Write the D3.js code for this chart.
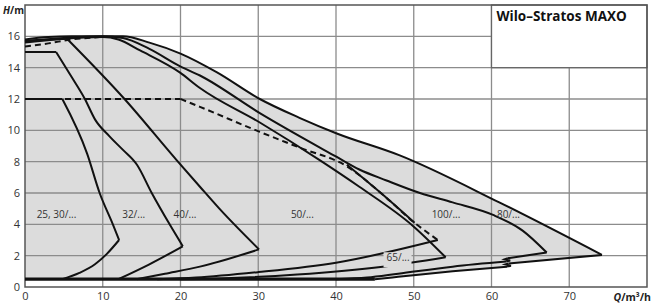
<!DOCTYPE html>
<html>
<head>
<meta charset="utf-8">
<script src="https://cdn.jsdelivr.net/npm/d3@7"></script>
<style>
  body { margin: 0; background: #fff; }
  svg { display: block; font-family: "Open Sans", sans-serif; }
</style>
</head>
<body>
<svg width="655" height="306"></svg>
<script>
// pump curves, [Q m3/h, H m], every array sorted by Q
const xTicks = [0, 10, 20, 30, 40, 50, 60, 70];
const yTicks = [0, 2, 4, 6, 8, 10, 12, 14, 16];

const baseline = [[0, 0.5], [45, 0.5]];

// flat starts (drawn straight, corner stays sharp)
const flat25 = [[0, 12], [4.8, 12]];
const flat32 = [[0, 15], [4, 15]];
const flat40 = [[0, 15.7], [5.4, 15.85]];

// max curves (upper) and min curves (lower), they meet at the tip
const up25 = [[4.8, 12], [8, 8.5], [9.6, 6], [11.3, 4], [12.1, 3.0]];
const low25 = [[4.8, 0.5], [7, 0.9], [9, 1.45], [10.5, 2.1], [12.1, 3.0]];

const up32 = [[4, 15], [6, 13.4], [7.7, 12], [9, 10.7], [10.9, 9.6], [12.6, 8.75],
  [14.4, 7.8], [16.3, 6], [18.6, 4], [20.3, 2.6]];
const low32 = [[12, 0.5], [16, 1.45], [20.3, 2.6]];

const up40 = [[5.4, 15.85], [12.8, 12], [19.5, 8.1], [22.5, 6.4], [25, 5], [30.1, 2.4]];
const low40 = [[14.4, 0.5], [18, 0.85], [22.5, 1.3], [30.1, 2.4]];

const up50 = [[0, 15.6], [5, 15.85], [10, 15.95], [12, 15.8], [14.8, 15.1], [19.9, 13.7],
  [22.5, 12.7], [30.2, 10.5], [37.9, 8.1], [43, 6.4], [49.9, 3.9], [54.1, 1.9]];
const low50 = [[20, 0.5], [25, 0.55], [35, 0.8], [46, 1.3], [54.1, 1.9]];
const branch50 = [[41.4, 7.8], [46, 5.9], [50.1, 4.1]];

const up100 = [[0, 15.7], [5, 15.9], [10, 16], [12.6, 15.9], [16, 15.2], [19.9, 14.1],
  [22.5, 13.5], [30.2, 11.1], [40.1, 8.3], [43, 7.5], [46.5, 6.8], [50.8, 6.0], [55, 5.4],
  [60.2, 4.6], [64, 3.6], [67.1, 2.2]];
const low100a = [[40, 0.5], [44, 0.6], [48, 0.85], [55, 1.3], [61.9, 1.62]];
const zig100 = [[61.9, 1.62], [62.4, 1.69], [61.7, 1.77], [62.1, 1.84]];
const low100b = [[62.1, 1.84], [67.1, 2.2]];

const up80 = [[0, 15.8], [3, 15.95], [6, 16], [12.6, 16], [16, 15.6], [20, 14.9], [24.7, 13.7],
  [30.2, 12], [35.3, 10.8], [40.1, 9.8], [48.2, 8.4], [61, 5.4], [74.2, 2.05]];
const low80a = [[45, 0.5], [48, 0.65], [55, 1.0], [62, 1.3]];
const zig80 = [[62, 1.3], [62.5, 1.36], [61.8, 1.44], [62.2, 1.5]];
const low80b = [[62.2, 1.5], [74.2, 2.05]];

const dashTop = [[0, 15.35], [3, 15.55], [6, 15.8], [9.6, 15.95]];
const dashFlat = [[0, 12], [20, 12]];
const dash12 = [[20, 12], [22.5, 11.5], [30.2, 9.9], [35.3, 8.9], [41.4, 7.7],
  [46, 5.9], [50.1, 4.1], [53.1, 3.0]];
const low12 = [[17, 0.5], [22, 0.6], [30, 0.95], [40, 1.55], [53.1, 3.0]];

const labels = ["25, 30/...", "32/...", "40/...", "50/...", "65/...", "100/...", "80/..."];
const labelQ = [1.5, 12.5, 19.1, 34.2, 46.5, 52.3, 60.7];
const labelH = [4.65, 4.65, 4.65, 4.65, 1.9, 4.65, 4.65];

const svg = d3.select('svg');

const x = d3.scaleLinear().domain([0, 80]).range([25, 647]);
const y = d3.scaleLinear().domain([0, 18]).range([287, 5]);

const smooth = d3.line().x(d => x(d[0])).y(d => y(d[1])).curve(d3.curveMonotoneX);
const straight = d3.line().x(d => x(d[0])).y(d => y(d[1]));

// grey envelope: outer max curve, back along its min curve, then the baseline
const envPath = smooth(up80)
  + smooth(low80b.slice().reverse()).replace('M', 'L')
  + straight(zig80.slice().reverse()).replace('M', 'L')
  + smooth(low80a.slice().reverse()).replace('M', 'L')
  + straight(baseline.slice().reverse()).replace('M', 'L') + 'Z';
svg.append('path')
  .attr('d', envPath)
  .attr('fill', '#dcdcdc');

// grid
svg.append('g').selectAll('line').data(xTicks.slice(1)).enter()
  .append('line')
  .attr('x1', d => x(d)).attr('x2', d => x(d))
  .attr('y1', y(0)).attr('y2', y(18))
  .attr('stroke', '#8c8c8c').attr('stroke-width', 1.3);
svg.append('g').selectAll('line').data(yTicks.slice(1)).enter()
  .append('line')
  .attr('x1', x(0)).attr('x2', x(80))
  .attr('y1', d => y(d)).attr('y2', d => y(d))
  .attr('stroke', '#8c8c8c').attr('stroke-width', 1.3);

// title box
svg.append('rect')
  .attr('x', x(60)).attr('y', y(18))
  .attr('width', x(80) - x(60)).attr('height', y(14) - y(18))
  .attr('fill', '#fff').attr('stroke', '#666').attr('stroke-width', 1.3);
svg.append('text')
  .attr('x', x(60) + 5).attr('y', 21)
  .attr('font-size', 13.5).attr('font-weight', 'bold').attr('fill', '#111')
  .text('Wilo–Stratos MAXO');

// frame
svg.append('rect')
  .attr('x', x(0)).attr('y', y(18))
  .attr('width', x(80) - x(0)).attr('height', y(0) - y(18))
  .attr('fill', 'none').attr('stroke', '#555').attr('stroke-width', 1.5);

// dashed curves
svg.append('g').selectAll('path').data([dashTop, dash12]).enter()
  .append('path')
  .attr('d', smooth)
  .attr('fill', 'none').attr('stroke', '#111').attr('stroke-width', 2)
  .attr('stroke-dasharray', '6,4');
svg.append('path')
  .attr('d', straight(dashFlat))
  .attr('fill', 'none').attr('stroke', '#111').attr('stroke-width', 2)
  .attr('stroke-dasharray', '6,4');

// solid curves
const smoothCurves = [up25, low25, up32, low32, up40, low40, up50, low50, branch50,
  up100, low100a, low100b, up80, low80a, low80b, low12];
svg.append('g').selectAll('path').data(smoothCurves).enter()
  .append('path')
  .attr('d', smooth)
  .attr('fill', 'none').attr('stroke', '#111').attr('stroke-width', 2);
svg.append('g').selectAll('path').data([flat25, flat32, flat40, zig100, zig80]).enter()
  .append('path')
  .attr('d', straight)
  .attr('fill', 'none').attr('stroke', '#111').attr('stroke-width', 2)
  .attr('stroke-linejoin', 'miter');
svg.append('path')
  .attr('d', straight(baseline))
  .attr('stroke', '#111').attr('stroke-width', 3.2);

// range labels (65/... sits on a line, so it gets a background patch)
const lab = svg.append('g').selectAll('g').data(labels).enter().append('g');
lab.filter((d, i) => i === 4).append('rect')
  .attr('x', x(labelQ[4]) - 3).attr('y', y(labelH[4]) - 5)
  .attr('width', 28).attr('height', 15)
  .attr('fill', '#dcdcdc');
lab.append('text')
  .attr('x', (d, i) => x(labelQ[i]))
  .attr('y', (d, i) => y(labelH[i]))
  .attr('dy', '0.35em')
  .attr('font-size', 10).attr('fill', '#333')
  .text(d => d);

// axes
const xAxis = d3.axisBottom(x).tickValues(xTicks).tickSize(0).tickPadding(5);
const yAxis = d3.axisLeft(y).tickValues(yTicks).tickSize(0).tickPadding(5);
svg.append('g').attr('transform', `translate(0, ${y(0)})`).call(xAxis)
  .call(g => g.select('.domain').remove())
  .selectAll('text').attr('font-size', 11).attr('fill', '#333').attr('font-family', '"Open Sans", sans-serif');
svg.append('g').attr('transform', `translate(${x(0)}, 0)`).call(yAxis)
  .call(g => g.select('.domain').remove())
  .selectAll('text').attr('font-size', 11).attr('fill', '#333').attr('font-family', '"Open Sans", sans-serif');

const hTitle = svg.append('text').attr('x', 3).attr('y', 14)
  .attr('font-size', 10).attr('font-weight', 'bold').attr('fill', '#222');
hTitle.append('tspan').attr('font-style', 'italic').text('H');
hTitle.append('tspan').text('/m');

const qTitle = svg.append('text').attr('x', 651).attr('y', 301).attr('text-anchor', 'end')
  .attr('font-size', 10.5).attr('font-weight', 'bold').attr('fill', '#222');
qTitle.append('tspan').attr('font-style', 'italic').text('Q');
qTitle.append('tspan').text('/m³/h');
</script>
</body>
</html>
